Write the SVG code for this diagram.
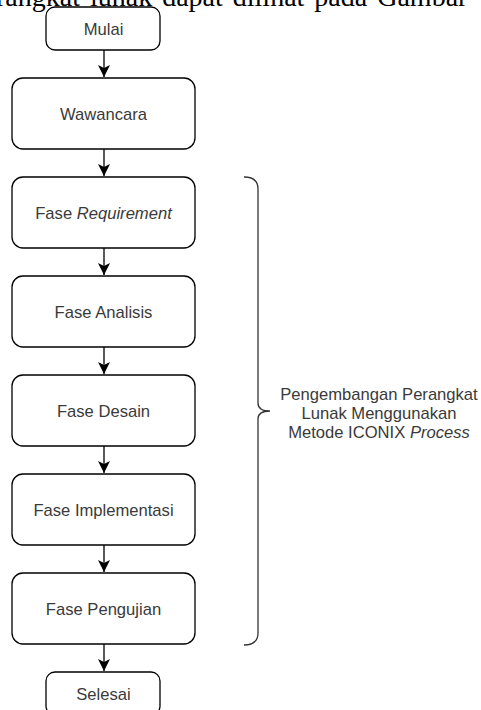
<svg xmlns="http://www.w3.org/2000/svg" width="481" height="710" viewBox="0 0 481 710">
<defs>
<style>
.box{fill:#fff;stroke:#000;stroke-width:1.3}
.t{font-family:"Liberation Sans",Arial,sans-serif;font-size:16.6px;fill:#3a3a3a;text-anchor:middle}
.edge{stroke:#000;stroke-width:1.3;fill:none}
.doc{font-family:"Liberation Serif","Times New Roman",serif;font-size:28px;fill:#000;word-spacing:3px}
</style>
<marker id="arr" markerUnits="userSpaceOnUse" markerWidth="14" markerHeight="14" viewBox="0 0 14 14" refX="12" refY="7" orient="auto">
<path d="M12,7 L0,1 L3,7 L0,13 Z" fill="#000"/>
</marker>
</defs>
<rect width="481" height="710" fill="#fff"/>
<g id="doc-text">
<text class="doc" x="-4" y="6">rangkat lunak dapat dilihat pada Gambar</text>
</g>
<g id="connectors">
<line class="edge" x1="104" y1="50" x2="104" y2="77" marker-end="url(#arr)"/>
<line class="edge" x1="104" y1="149" x2="104" y2="176" marker-end="url(#arr)"/>
<line class="edge" x1="104" y1="248" x2="104" y2="275" marker-end="url(#arr)"/>
<line class="edge" x1="104" y1="347" x2="104" y2="374" marker-end="url(#arr)"/>
<line class="edge" x1="104" y1="446" x2="104" y2="473" marker-end="url(#arr)"/>
<line class="edge" x1="104" y1="545" x2="104" y2="572" marker-end="url(#arr)"/>
<line class="edge" x1="104" y1="644" x2="104" y2="671" marker-end="url(#arr)"/>
</g>
<g id="mulai"><rect class="box" x="46" y="7" width="114" height="43" rx="9"/><text class="t" x="103.5" y="35">Mulai</text></g>
<g id="wawancara"><rect class="box" x="12" y="78" width="183" height="71" rx="11"/><text class="t" x="103.5" y="120">Wawancara</text></g>
<g id="requirement"><rect class="box" x="12" y="177" width="183" height="71" rx="11"/><text class="t" x="103.5" y="218.5">Fase <tspan font-style="italic">Requirement</tspan></text></g>
<g id="analisis"><rect class="box" x="12" y="276" width="183" height="71" rx="11"/><text class="t" x="103.5" y="317.5">Fase Analisis</text></g>
<g id="desain"><rect class="box" x="12" y="375" width="183" height="71" rx="11"/><text class="t" x="103.5" y="416.5">Fase Desain</text></g>
<g id="implementasi"><rect class="box" x="12" y="474" width="183" height="71" rx="11"/><text class="t" x="103.5" y="515.5">Fase Implementasi</text></g>
<g id="pengujian"><rect class="box" x="12" y="573" width="183" height="71" rx="11"/><text class="t" x="103.5" y="614.5">Fase Pengujian</text></g>
<g id="selesai"><rect class="box" x="46" y="672" width="114" height="43" rx="9"/><text class="t" x="103.5" y="700">Selesai</text></g>
<g id="brace">
<path d="M244,177 Q258,177 258,189 L258,403 Q258,411 270,411 Q258,411 258,419 L258,633 Q258,645 244,645" fill="none" stroke="#333" stroke-width="1.3"/>
<text class="t" x="379" y="399.5">Pengembangan Perangkat</text>
<text class="t" x="379" y="418.8">Lunak Menggunakan</text>
<text class="t" x="379" y="438">Metode ICONIX <tspan font-style="italic">Process</tspan></text>
</g>
</svg>
